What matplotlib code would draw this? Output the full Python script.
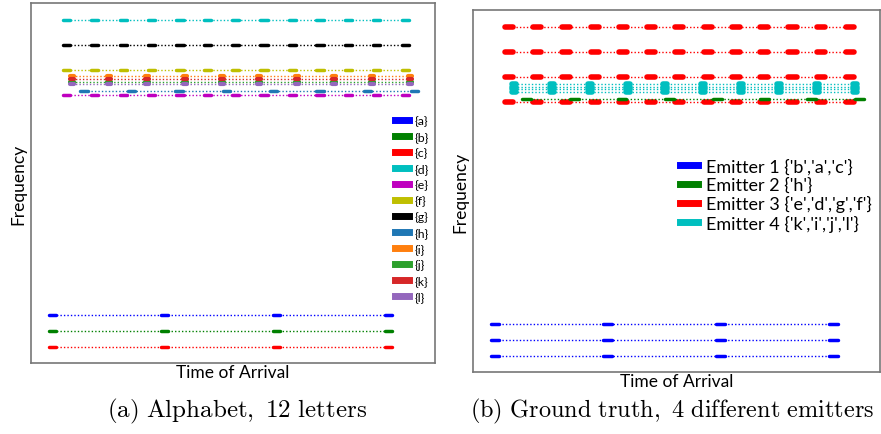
import numpy as np
import matplotlib
matplotlib.use('Agg')
import matplotlib.pyplot as plt
from matplotlib.lines import Line2D

plt.rcParams['font.family'] = ['Lato', 'DejaVu Sans']
plt.rcParams['mathtext.fontset'] = 'cm'

# Time of arrival of pulses (arbitrary units, axis runs 0..100)
toa_abc = [5.4, 33.0, 60.8, 88.5]
toa_defg = [8.8, 15.8, 22.9, 29.9, 36.9, 43.7, 50.7, 57.7, 64.7, 71.5, 78.5, 85.6, 92.6]
toa_h = [13.1, 24.9, 36.6, 48.3, 60.0, 71.5, 83.2, 94.9]
toa_ijkl = [10.1, 19.4, 28.8, 38.0, 47.2, 56.5, 65.8, 75.1, 84.5, 93.8]

# Frequency of each letter (arbitrary units, axis runs 0..100)
letters = ['a', 'b', 'c', 'd', 'e', 'f', 'g', 'h', 'i', 'j', 'k', 'l']
freqs = [13.4, 8.9, 4.4, 95.3, 74.5, 81.4, 88.3, 75.5, 79.6, 78.1, 78.8, 77.4]
letter_colors = ['#0000ff', '#008000', '#ff0000', '#00bfbf', '#bf00bf', '#bfbf00',
                 '#000000', '#1f77b4', '#ff7f0e', '#2ca02c', '#d62728', '#9467bd']

# Ground truth emitters
emitter_names = ["Emitter 1 {'b','a','c'}", "Emitter 2 {'h'}",
                 "Emitter 3 {'e','d','g','f'}", "Emitter 4 {'k','i','j','l'}"]
emitter_colors = ['#0000ff', '#008000', '#ff0000', '#00bfbf']
emitter_of = [0, 0, 0, 2, 2, 2, 2, 1, 3, 3, 3, 3]


def toa_of(letter):
    if letter in 'abc':
        return toa_abc
    if letter in 'defg':
        return toa_defg
    if letter == 'h':
        return toa_h
    return toa_ijkl


def draw_train(ax, toa, freq, color, hw, lw):
    toa = np.asarray(toa)
    ax.plot(toa, [freq] * len(toa), color=color, lw=1, linestyle=(0, (1, 1.5)))
    ax.hlines([freq] * len(toa), toa - hw, toa + hw, colors=color, lw=lw,
              capstyle='round')


def style_axes(ax):
    ax.set_xlim(0, 100)
    ax.set_ylim(0, 100)
    ax.set_xticks([])
    ax.set_yticks([])
    for s in ax.spines.values():
        s.set_color('#777777')
        s.set_linewidth(1.2)
    ax.set_xlabel('Time of Arrival', fontsize=12.5, labelpad=1)
    ax.set_ylabel('Frequency', fontsize=12.5, labelpad=3)


fig = plt.figure(figsize=(8.81, 4.35), dpi=100)
ax1 = fig.add_axes([0.0352, 0.1632, 0.4586, 0.8276])
ax2 = fig.add_axes([0.5369, 0.1425, 0.4620, 0.8322])

# (a) alphabet
for i, letter in enumerate(letters):
    if letter in 'ijkl':
        hw, lw = 0.5, 3
    else:
        hw, lw = 0.9, 2.5
    draw_train(ax1, toa_of(letter), freqs[i], letter_colors[i], hw, lw)
style_axes(ax1)
handles1 = [Line2D([0], [0], color=c, lw=5) for c in letter_colors]
ax1.legend(handles1, ['{%s}' % l for l in letters], loc='upper left',
           bbox_to_anchor=(0.885, 0.705), frameon=False, fontsize=8.8,
           handlelength=1.2, handletextpad=0.4, labelspacing=0.41, borderpad=0)

# (b) ground truth
for i, letter in enumerate(letters):
    e = emitter_of[i]
    if e == 3:
        hw, lw = 0.5, 4
    elif e == 2:
        hw, lw = 1.0, 4
    else:
        hw, lw = 1.1, 2.5
    draw_train(ax2, toa_of(letter), freqs[i], emitter_colors[e], hw, lw)
style_axes(ax2)
handles2 = [Line2D([0], [0], color=c, lw=5) for c in emitter_colors]
ax2.legend(handles2, emitter_names, loc='upper left',
           bbox_to_anchor=(0.487, 0.615), frameon=False, fontsize=13,
           handlelength=1.0, handletextpad=0.45, labelspacing=0.12, borderpad=0)

fig.text(0.2696, 0.055, r'$\mathrm{(a)\ Alphabet,\ 12\ letters}$', ha='center',
         va='center', fontsize=18)
fig.text(0.763, 0.055, r'$\mathrm{(b)\ Ground\ truth,\ 4\ different\ emitters}$',
         ha='center', va='center', fontsize=17.5)

fig.savefig('out.png', dpi=100)
